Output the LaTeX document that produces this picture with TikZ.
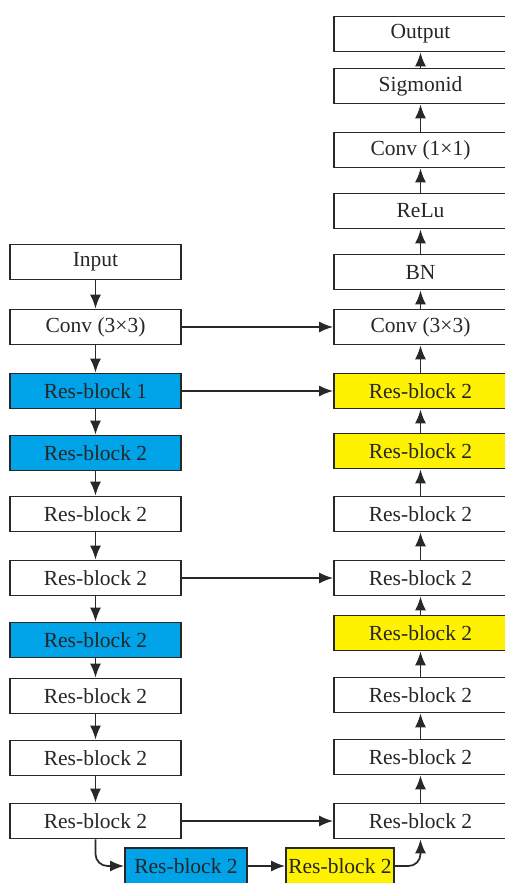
\documentclass[tikz,border=0pt]{standalone}
\usepackage{fontspec}
\setmainfont{Liberation Serif}
\usetikzlibrary{arrows.meta}
\definecolor{resblue}{RGB}{0,162,232}
\definecolor{resyellow}{RGB}{255,242,0}
\definecolor{edge}{RGB}{40,40,40}

\begin{document}
\begin{tikzpicture}[x=1pt,y=-1pt,
  box/.style={draw=edge,line width=1.8pt,minimum width=171pt,minimum height=35pt,inner sep=1pt,
    font=\fontsize{21.5}{25}\selectfont,text=black!85},
  rbox/.style={box,minimum width=173pt},
  flow/.style={-{Latex[length=14pt,width=11pt]},draw=edge,fill=edge,line width=1.7pt}]
\useasboundingbox (0,0) rectangle (505,883);
% --- encoder column ---
\node[box]               (in)   at (95.5,262) {Input};
\node[box]               (conv) at (95.5,327) {Conv (3×3)};
\node[box,fill=resblue]  (enc1) at (95.5,391) {Res-block 1};
\node[box,fill=resblue]  (enc2) at (95.5,453) {Res-block 2};
\node[box]               (enc3) at (95.5,514) {Res-block 2};
\node[box]               (enc4) at (95.5,578) {Res-block 2};
\node[box,fill=resblue]  (enc5) at (95.5,640) {Res-block 2};
\node[box]               (enc6) at (95.5,696) {Res-block 2};
\node[box]               (enc7) at (95.5,758) {Res-block 2};
\node[box]               (enc8) at (95.5,821) {Res-block 2};
% --- bottleneck ---
\node[box,fill=resblue,minimum width=122pt,minimum height=36pt]   (mid1) at (186,866) {Res-block 2};
\node[box,fill=resyellow,minimum width=108pt,minimum height=36pt] (mid2) at (340,866) {Res-block 2};
% --- decoder column (runs off the right edge) ---
\node[rbox]               (dec1)  at (420.5,821) {Res-block 2};
\node[rbox]               (dec2)  at (420.5,757) {Res-block 2};
\node[rbox]               (dec3)  at (420.5,695) {Res-block 2};
\node[rbox,fill=resyellow](dec4)  at (420.5,633) {Res-block 2};
\node[rbox]               (dec5)  at (420.5,578) {Res-block 2};
\node[rbox]               (dec6)  at (420.5,514) {Res-block 2};
\node[rbox,fill=resyellow](dec7)  at (420.5,451) {Res-block 2};
\node[rbox,fill=resyellow](dec8)  at (420.5,391) {Res-block 2};
\node[rbox]               (rconv) at (420.5,327) {Conv (3×3)};
\node[rbox]               (bn)    at (420.5,272) {BN};
\node[rbox]               (relu)  at (420.5,211) {ReLu};
\node[rbox]               (conv1) at (420.5,150) {Conv (1×1)};
\node[rbox]               (sig)   at (420.5,86)  {Sigmonid};
\node[rbox]               (out)   at (420.5,34)  {Output};
% --- down the encoder ---
\draw[flow] (in.south) -- (conv.north);
\draw[flow] (conv.south) -- (enc1.north);
\draw[flow] (enc1.south) -- (enc2.north);
\draw[flow] (enc2.south) -- (enc3.north);
\draw[flow] (enc3.south) -- (enc4.north);
\draw[flow] (enc4.south) -- (enc5.north);
\draw[flow] (enc5.south) -- (enc6.north);
\draw[flow] (enc6.south) -- (enc7.north);
\draw[flow] (enc7.south) -- (enc8.north);
% --- bottleneck path ---
\draw[flow,fill=none,rounded corners=12pt] (enc8.south) |- (mid1.west);
\draw[flow] (mid1.east) -- (mid2.west);
\draw[flow,fill=none,rounded corners=12pt] (mid2.east) -| (dec1.south);
% --- up the decoder ---
\draw[flow] (dec1.north) -- (dec2.south);
\draw[flow] (dec2.north) -- (dec3.south);
\draw[flow] (dec3.north) -- (dec4.south);
\draw[flow] (dec4.north) -- (dec5.south);
\draw[flow] (dec5.north) -- (dec6.south);
\draw[flow] (dec6.north) -- (dec7.south);
\draw[flow] (dec7.north) -- (dec8.south);
\draw[flow] (dec8.north) -- (rconv.south);
\draw[flow] (rconv.north) -- (bn.south);
\draw[flow] (bn.north) -- (relu.south);
\draw[flow] (relu.north) -- (conv1.south);
\draw[flow] (conv1.north) -- (sig.south);
\draw[flow] (sig.north) -- (out.south);
% --- skip connections ---
\draw[flow] (conv.east) -- (rconv.west);
\draw[flow] (enc1.east) -- (dec8.west);
\draw[flow] (enc4.east) -- (dec5.west);
\draw[flow] (enc8.east) -- (dec1.west);
\end{tikzpicture}
\end{document}
